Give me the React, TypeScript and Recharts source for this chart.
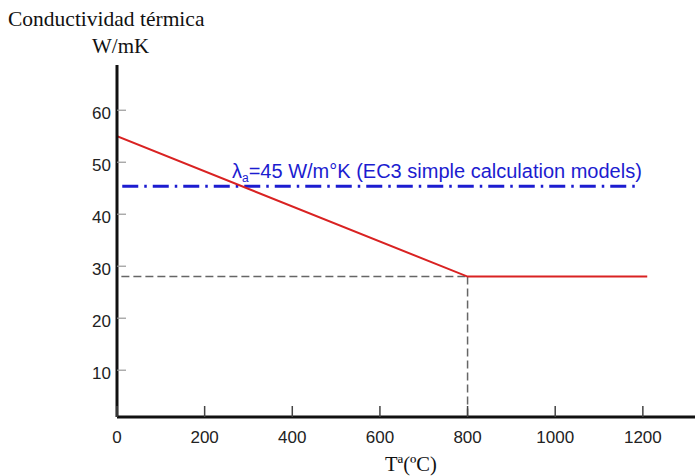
import React from "react";
import { LineChart, Line, XAxis, YAxis, ReferenceLine } from "recharts";

// Data
const temperatures = [0, 800, 1210];
const conductivity = [55, 28, 28];
const ec3Value = 45.4;
const ec3Range = [12, 1189];
const guideTemp = 800;
const guideStart = 10;
const guideValue = 28;
const xTicks = [0, 200, 400, 600, 800, 1000, 1200];
const yTicks = [10, 20, 30, 40, 50, 60];
const xDomain = [0, 1319];
const yDomain = [1.0, 68.7];

const redData = temperatures.map((t, i) => ({ t, k: conductivity[i] }));

const sans = "'Liberation Sans', Arial, sans-serif";
const serif = "'Liberation Serif', 'Times New Roman', serif";

const XTick = (props: any) => {
  const { x, y, payload } = props;
  return (
    <g>
      <line x1={x} x2={x} y1={y} y2={y - 11} stroke="#444" strokeWidth={1.5} />
      <text x={x} y={y + 26} textAnchor="middle" fontFamily={sans} fontSize={17} fill="#222">
        {payload.value}
      </text>
    </g>
  );
};

const YTick = (props: any) => {
  const { x, y, payload } = props;
  return (
    <g>
      <line x1={x} x2={x + 9} y1={y} y2={y} stroke="#999" strokeWidth={1.2} />
      <text x={x - 6} y={y + 9} textAnchor="end" fontFamily={sans} fontSize={17} fill="#222">
        {payload.value}
      </text>
    </g>
  );
};

export default function App() {
  return (
    <div style={{ position: "absolute", left: 0, top: 0, width: 695, height: 476, background: "#fff" }}>
      <LineChart
        width={695}
        height={476}
        data={redData}
        margin={{ top: 65, right: 0, bottom: 29, left: 57 }}
      >
        <XAxis
          dataKey="t"
          type="number"
          domain={xDomain}
          ticks={xTicks}
          height={30}
          tickSize={0}
          tickMargin={0}
          tickLine={false}
          tick={<XTick />}
          axisLine={{ stroke: "#111", strokeWidth: 3 }}
          allowDataOverflow
        />
        <YAxis
          type="number"
          domain={yDomain}
          ticks={yTicks}
          width={60}
          tickSize={0}
          tickMargin={0}
          tickLine={false}
          tick={<YTick />}
          axisLine={{ stroke: "#111", strokeWidth: 3 }}
          allowDataOverflow
        />
        <ReferenceLine
          segment={[
            { x: guideStart, y: guideValue },
            { x: guideTemp, y: guideValue },
          ]}
          stroke="#666"
          strokeWidth={1.5}
          strokeDasharray="8 4"
        />
        <ReferenceLine
          segment={[
            { x: guideTemp, y: guideValue },
            { x: guideTemp, y: yDomain[0] },
          ]}
          stroke="#666"
          strokeWidth={1.5}
          strokeDasharray="8 4"
        />
        <ReferenceLine
          segment={[
            { x: ec3Range[0], y: ec3Value },
            { x: ec3Range[1], y: ec3Value },
          ]}
          stroke="#1c1cd0"
          strokeWidth={3}
          strokeDasharray="16 6 2.5 6"
        />
        <Line
          dataKey="k"
          stroke="#d92222"
          strokeWidth={2}
          dot={false}
          isAnimationActive={false}
        />
      </LineChart>
      <svg
        width={695}
        height={476}
        style={{ position: "absolute", left: 0, top: 0, pointerEvents: "none" }}
      >
        <text x={8} y={26} fontFamily={serif} fontSize={21.5} fill="#111">
          Conductividad térmica
        </text>
        <text x={92} y={53} fontFamily={serif} fontSize={21} fill="#111">
          W/mK
        </text>
        <text x={385} y={471} fontFamily={serif} fontSize={20.5} fill="#111">
          Tª(ºC)
        </text>
        <text x={232} y={178} fontFamily={sans} fontSize={20} fill="#1c1cd0">
          λ<tspan fontSize={12} dy={4}>a</tspan>
          <tspan dy={-4}>=45 W/m°K (EC3 simple calculation models)</tspan>
        </text>
      </svg>
    </div>
  );
}
